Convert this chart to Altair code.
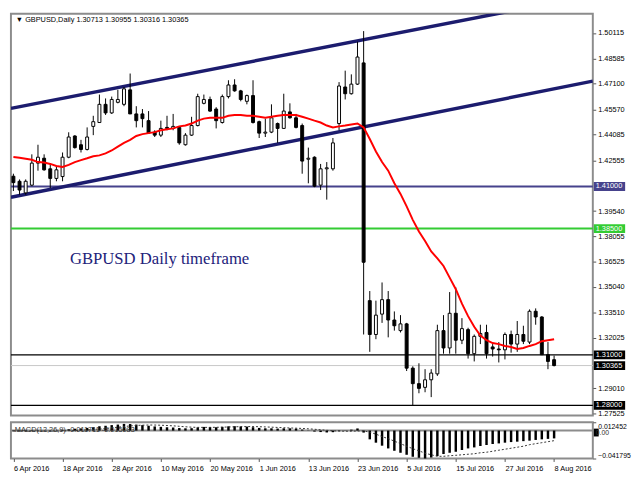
import altair as alt
import pandas as pd

FONT = "Liberation Sans"

dates = [d.strftime("%-d %b %Y") for d in pd.bdate_range("2016-04-06", "2016-08-08")]

opens = [1.4161, 1.4131, 1.4062, 1.4108, 1.4239, 1.4268, 1.4205, 1.4148, 1.4159, 1.4274,
         1.4400, 1.4348, 1.4320, 1.4457, 1.4480, 1.4588, 1.4537, 1.4600, 1.4588, 1.4674,
         1.4531, 1.4531, 1.4491, 1.4423, 1.4405, 1.4451, 1.4445, 1.4451, 1.4348, 1.4405,
         1.4462, 1.4594, 1.4617, 1.4560, 1.4480, 1.4634, 1.4703, 1.4668, 1.4606, 1.4640,
         1.4485, 1.4417, 1.4423, 1.4474, 1.4445, 1.4543, 1.4508, 1.4462, 1.4262, 1.4274,
         1.4108, 1.4205, 1.4205, 1.4474, 1.4691, 1.4651, 1.4708, 1.4834, 1.3422, 1.3221,
         1.3342, 1.3428, 1.3307, 1.3244, 1.3284, 1.3021, 1.2929, 1.2907, 1.2952, 1.2987,
         1.3244, 1.3141, 1.3347, 1.3187, 1.3250, 1.3107, 1.3210, 1.3233, 1.3147, 1.3135,
         1.3130, 1.3221, 1.3164, 1.3221, 1.3176, 1.3359, 1.3325, 1.3101, 1.30713]
highs = [1.4176, 1.4142, 1.4142, 1.4291, 1.4348, 1.4291, 1.4234, 1.4222, 1.4302, 1.4422,
         1.4405, 1.4377, 1.4451, 1.4520, 1.4646, 1.4623, 1.4634, 1.4674, 1.4691, 1.4771,
         1.4577, 1.4560, 1.4548, 1.4434, 1.4491, 1.4520, 1.4531, 1.4457, 1.4417, 1.4514,
         1.4651, 1.4646, 1.4634, 1.4571, 1.4646, 1.4731, 1.4737, 1.4674, 1.4646, 1.4731,
         1.4491, 1.4503, 1.4588, 1.4480, 1.4651, 1.4594, 1.4531, 1.4474, 1.4331, 1.4279,
         1.4234, 1.4245, 1.4388, 1.4720, 1.4788, 1.4766, 1.4960, 1.5023, 1.3479, 1.3422,
         1.3530, 1.3479, 1.3358, 1.3336, 1.3290, 1.3032, 1.3050, 1.3015, 1.3015, 1.3279,
         1.3336, 1.3473, 1.3501, 1.3318, 1.3261, 1.3221, 1.3279, 1.3279, 1.3164, 1.3176,
         1.3233, 1.3244, 1.3301, 1.3273, 1.3370, 1.3376, 1.3330, 1.3176, 1.30955]
lows = [1.4073, 1.4051, 1.4051, 1.4102, 1.4194, 1.4194, 1.4091, 1.4131, 1.4131, 1.4268,
        1.4325, 1.4302, 1.4314, 1.4405, 1.4480, 1.4525, 1.4531, 1.4594, 1.4577, 1.4531,
        1.4451, 1.4451, 1.4417, 1.4394, 1.4394, 1.4434, 1.4434, 1.4348, 1.4343, 1.4400,
        1.4457, 1.4588, 1.4543, 1.4445, 1.4474, 1.4623, 1.4663, 1.4606, 1.4588, 1.4474,
        1.4388, 1.4394, 1.4417, 1.4359, 1.4445, 1.4503, 1.4445, 1.4176, 1.4119, 1.4096,
        1.4079, 1.4022, 1.4194, 1.4434, 1.4617, 1.4646, 1.4703, 1.3221, 1.3118, 1.3193,
        1.3290, 1.3204, 1.3244, 1.3233, 1.3004, 1.2798, 1.2872, 1.2878, 1.2849, 1.2975,
        1.3107, 1.3107, 1.3107, 1.3164, 1.3078, 1.3061, 1.3164, 1.3078, 1.3090, 1.3055,
        1.3073, 1.3113, 1.3118, 1.3164, 1.3164, 1.3279, 1.3101, 1.3015, 1.30316]
closes = [1.4123, 1.4079, 1.4131, 1.4239, 1.4274, 1.4199, 1.4148, 1.4199, 1.4274, 1.4394,
          1.4331, 1.4320, 1.4394, 1.4485, 1.4588, 1.4537, 1.4617, 1.4617, 1.4680, 1.4531,
          1.4491, 1.4503, 1.4417, 1.4405, 1.4445, 1.4445, 1.4457, 1.4359, 1.4405, 1.4462,
          1.4634, 1.4617, 1.4548, 1.4491, 1.4634, 1.4703, 1.4668, 1.4617, 1.4640, 1.4480,
          1.4417, 1.4423, 1.4508, 1.4445, 1.4548, 1.4508, 1.4451, 1.4251, 1.4268, 1.4102,
          1.4205, 1.4211, 1.4359, 1.4697, 1.4651, 1.4708, 1.4869, 1.3650, 1.3221, 1.3336,
          1.3428, 1.3307, 1.3273, 1.3284, 1.3021, 1.2929, 1.2901, 1.2952, 1.2992, 1.3244,
          1.3141, 1.3347, 1.3187, 1.3256, 1.3107, 1.3210, 1.3227, 1.3107, 1.3135, 1.3130,
          1.3221, 1.3164, 1.3221, 1.3181, 1.3359, 1.3325, 1.3101, 1.3061, 1.30365]
ma = [1.4275, 1.4271, 1.4265, 1.4259, 1.4245, 1.4242, 1.4234, 1.4222, 1.4216, 1.4228,
      1.4245, 1.4257, 1.4268, 1.4280, 1.4285, 1.4297, 1.4314, 1.4337, 1.4359, 1.4377,
      1.4400, 1.4411, 1.4417, 1.4423, 1.4434, 1.4440, 1.4445, 1.4457, 1.4462, 1.4474,
      1.4491, 1.4503, 1.4508, 1.4508, 1.4508, 1.4520, 1.4525, 1.4525, 1.4520, 1.4520,
      1.4514, 1.4508, 1.4514, 1.4520, 1.4525, 1.4525, 1.4525, 1.4514, 1.4503, 1.4491,
      1.4480, 1.4462, 1.4451, 1.4457, 1.4462, 1.4468, 1.4474, 1.4451, 1.4382, 1.4308,
      1.4245, 1.4194, 1.4119, 1.4056, 1.3982, 1.3902, 1.3833, 1.3776, 1.3714, 1.3673,
      1.3628, 1.3559, 1.3490, 1.3404, 1.3330, 1.3267, 1.3215, 1.3187, 1.3170, 1.3164,
      1.3153, 1.3147, 1.3135, 1.3141, 1.3153, 1.3164, 1.3181, 1.3187, 1.3193]
macd = [-0.0010, -0.0012, -0.0012, -0.0008, -0.0004, -0.0002, -0.0003, 0.0000, 0.0008, 0.0020,
        0.0028, 0.0032, 0.0040, 0.0050, 0.0065, 0.0072, 0.0082, 0.0090, 0.0100, 0.0098,
        0.0090, 0.0082, 0.0072, 0.0062, 0.0056, 0.0050, 0.0046, 0.0038, 0.0034, 0.0036,
        0.0048, 0.0055, 0.0054, 0.0050, 0.0056, 0.0064, 0.0066, 0.0062, 0.0060, 0.0050,
        0.0040, 0.0034, 0.0034, 0.0030, 0.0034, 0.0034, 0.0030, 0.0015, 0.0003, -0.0015,
        -0.0022, -0.0028, -0.0024, -0.0008, 0.0003, 0.0014, 0.0032, -0.0030, -0.0131, -0.0181,
        -0.0226, -0.0267, -0.0302, -0.0332, -0.0362, -0.0392, -0.0407, -0.0418, -0.0403, -0.0382,
        -0.0351, -0.0332, -0.0317, -0.0291, -0.0267, -0.0252, -0.0231, -0.0216, -0.0201, -0.0192,
        -0.0181, -0.0172, -0.0166, -0.0158, -0.0151, -0.0140, -0.0131, -0.0124, -0.0117]
signal = [-0.0005, -0.0006, -0.0007, -0.0008, -0.0008, -0.0008, -0.0007, -0.0006, -0.0005, -0.0002,
          0.0002, 0.0006, 0.0011, 0.0017, 0.0024, 0.0032, 0.0041, 0.0051, 0.0060, 0.0070,
          0.0077, 0.0081, 0.0083, 0.0083, 0.0080, 0.0076, 0.0071, 0.0064, 0.0057, 0.0051,
          0.0048, 0.0048, 0.0048, 0.0049, 0.0051, 0.0054, 0.0057, 0.0059, 0.0060, 0.0060,
          0.0058, 0.0055, 0.0051, 0.0047, 0.0043, 0.0039, 0.0036, 0.0032, 0.0027, 0.0020,
          0.0012, 0.0004, -0.0003, -0.0007, -0.0009, -0.0009, -0.0006, -0.0005, -0.0023, -0.0053,
          -0.0090, -0.0121, -0.0158, -0.0196, -0.0234, -0.0271, -0.0302, -0.0339, -0.0362, -0.0385,
          -0.0385, -0.0377, -0.0370, -0.0362, -0.0354, -0.0347, -0.0332, -0.0324, -0.0309, -0.0294,
          -0.0279, -0.0264, -0.0249, -0.0234, -0.0211, -0.0196, -0.0181, -0.0166, -0.0151]

price_ticks = [1.50115, 1.48585, 1.47100, 1.45570, 1.44085, 1.42555, 1.39540, 1.38055,
               1.36525, 1.35040, 1.33510, 1.32025, 1.29010, 1.27525]
level_values = [1.41000, 1.38500, 1.31000, 1.28000]
level_colors = ["#46428c", "#33cc33", "#000000", "#000000"]
level_widths = [2, 2, 1.5, 1.5]
current_price = 1.30365
tag_values = [1.41000, 1.38500, 1.31000, 1.30365, 1.28000]
tag_labels = ["1.41000", "1.38500", "1.31000", "1.30365", "1.28000"]
tag_colors = ["#46428c", "#33cc33", "#000000", "#000000", "#000000"]
channel_x = [-0.4, 94.3]
channel_upper = [1.4564, 1.5237]
channel_lower = [1.4036, 1.4726]
macd_ticks = [0.012452, -0.041795]
tick_idx = list(range(0, 89, 8))
tick_labels = [dates[i] for i in tick_idx]

header = "\u25bc GBPUSD,Daily  1.30713 1.30955 1.30316 1.30365"
macd_text = "MACD(12,26,9) -0.011711 -0.015083"
note_text = "GBPUSD Daily timeframe"
note_x = [9.2]
note_y = [1.3667]

W = 594
H1 = 410
H2 = 37
XDOM = [-0.4, 94.3]
YDOM = [1.27404, 1.51259]
MDOM = [-0.041795, 0.012452]

df = pd.DataFrame({"idx": list(range(len(dates))), "date": dates, "open": opens,
                   "high": highs, "low": lows, "close": closes, "ma": ma,
                   "macd": macd, "signal": signal})

xs = alt.Scale(domain=XDOM, nice=False, zero=False, padding=0)
ys = alt.Scale(domain=YDOM, nice=False, zero=False, padding=0)
ms = alt.Scale(domain=MDOM, nice=False, zero=False, padding=0)

yaxis = alt.Axis(orient="right", values=price_ticks, format=".5f", grid=False, domain=False,
                 tickSize=3, tickColor="#555555", labelFont=FONT, labelFontSize=7.5,
                 labelColor="black", labelPadding=2, title=None, labelOverlap=False)
label_expr = "[" + ",".join("'" + s + "'" for s in tick_labels) + "][round(datum.value / 8)]"
xaxis = alt.Axis(values=tick_idx, labelExpr=label_expr, grid=False, domain=False,
                 tickSize=3, tickColor="#555555", labelAlign="left", labelPadding=3,
                 labelFont=FONT, labelFontSize=7.5, labelColor="black", title=None,
                 labelOverlap=False, labelFlush=False, labelBound=False)
maxis = alt.Axis(orient="right", values=macd_ticks, format=".6f", grid=False, domain=False,
                 tickSize=3, tickColor="#555555", labelFont=FONT, labelFontSize=7,
                 labelColor="black", labelPadding=2, title=None, labelFlush=True,
                 labelOverlap=False)


def PY(field):
    return alt.Y(field, scale=ys, axis=yaxis)


X = alt.X("idx:Q", scale=xs, axis=None)
base = alt.Chart(df)

lv = pd.DataFrame({"level": level_values, "color": level_colors, "w": level_widths})
cur = pd.DataFrame({"level": [current_price]})
cur_line = alt.Chart(cur).mark_rule(color="#c8c8c8", strokeWidth=1).encode(y=PY("level:Q"))
lines = alt.Chart(lv).mark_rule().encode(
    y=PY("level:Q"),
    color=alt.Color("color:N", scale=None),
    strokeWidth=alt.StrokeWidth("w:Q", scale=None))

ch = pd.DataFrame({"x": channel_x * 2, "p": channel_upper + channel_lower,
                   "g": ["u", "u", "l", "l"]})
channel = alt.Chart(ch).mark_line(clip=True, color="#1c1c6e", strokeWidth=3.5).encode(
    x=alt.X("x:Q", scale=xs, axis=None), y=PY("p:Q"), detail="g:N")

wicks = base.mark_rule(color="black", strokeWidth=1).encode(x=X, y=PY("low:Q"), y2="high:Q")
bodies = base.mark_bar(size=3, stroke="black", strokeWidth=1).encode(
    x=X, y=PY("open:Q"), y2="close:Q",
    fill=alt.condition("datum.close >= datum.open", alt.value("white"), alt.value("black")))
ma_line = base.mark_line(color="#ff0000", strokeWidth=2).encode(x=X, y=PY("ma:Q"))

tags = pd.DataFrame({"level": tag_values, "label": tag_labels, "color": tag_colors})
tag_rect = alt.Chart(tags).mark_rect(yOffset=-4.5, y2Offset=4.5).encode(
    x=alt.value(W + 1), x2=alt.value(W + 33),
    y=PY("level:Q"), y2="level:Q",
    fill=alt.Color("color:N", scale=None))
tag_text = alt.Chart(tags).mark_text(align="left", baseline="middle", color="white",
                                     font=FONT, fontSize=7.5).encode(
    x=alt.value(W + 3), y=PY("level:Q"), text="label:N")

head = alt.Chart(pd.DataFrame({"t": [header]})).mark_text(
    align="left", baseline="middle", font=FONT, fontSize=7.5, color="black").encode(
    x=alt.value(5), y=alt.value(6), text="t:N")
note = alt.Chart(pd.DataFrame({"t": [note_text], "x": note_x, "y": note_y})).mark_text(
    align="left", baseline="middle", font="Liberation Serif", fontSize=17,
    color="#22227a").encode(
    x=alt.X("x:Q", scale=xs, axis=None), y=PY("y:Q"), text="t:N")

main = alt.layer(cur_line, lines, channel, wicks, bodies, ma_line, tag_rect, tag_text,
                 head, note).properties(width=W, height=H1)


def MY(field):
    return alt.Y(field, scale=ms, axis=maxis)


MX = alt.X("idx:Q", scale=xs, axis=xaxis)
zero = alt.Chart(pd.DataFrame({"z": [0.0]})).mark_rule(color="#8c8c8c", strokeWidth=2).encode(
    y=MY("z:Q"))
mbars = base.mark_bar(size=2.5, color="black").encode(x=MX, y=MY("macd:Q"), y2=alt.datum(0))
msig = base.mark_line(color="#333333", strokeWidth=1, strokeDash=[2, 2]).encode(
    x=MX, y=MY("signal:Q"))
ztag = alt.Chart(pd.DataFrame({"z": [0.0], "t": ["0.00"]}))
ztag_rect = ztag.mark_rect(yOffset=-2, y2Offset=6, color="black").encode(
    x=alt.value(W + 1), x2=alt.value(W + 6), y=MY("z:Q"), y2="z:Q")
ztag_text = ztag.mark_text(align="left", baseline="middle", font=FONT, fontSize=7,
                           dy=3, color="#303030").encode(
    x=alt.value(W + 3), y=MY("z:Q"), text="t:N")
mlabel = alt.Chart(pd.DataFrame({"t": [macd_text]})).mark_text(
    align="left", baseline="middle", font=FONT, fontSize=7.5, color="#303030").encode(
    x=alt.value(4), y=alt.value(8), text="t:N")

lower = alt.layer(zero, mbars, msig, ztag_rect, ztag_text, mlabel).properties(
    width=W, height=H2)

chart = alt.vconcat(main, lower, spacing=2).properties(
    padding={"left": 0, "top": 0, "right": 0, "bottom": 0},
    background="white"
).configure_view(stroke="#8c8c8c", strokeWidth=2)

chart.save("out.html", embed_options={"renderer": "svg", "actions": False})
